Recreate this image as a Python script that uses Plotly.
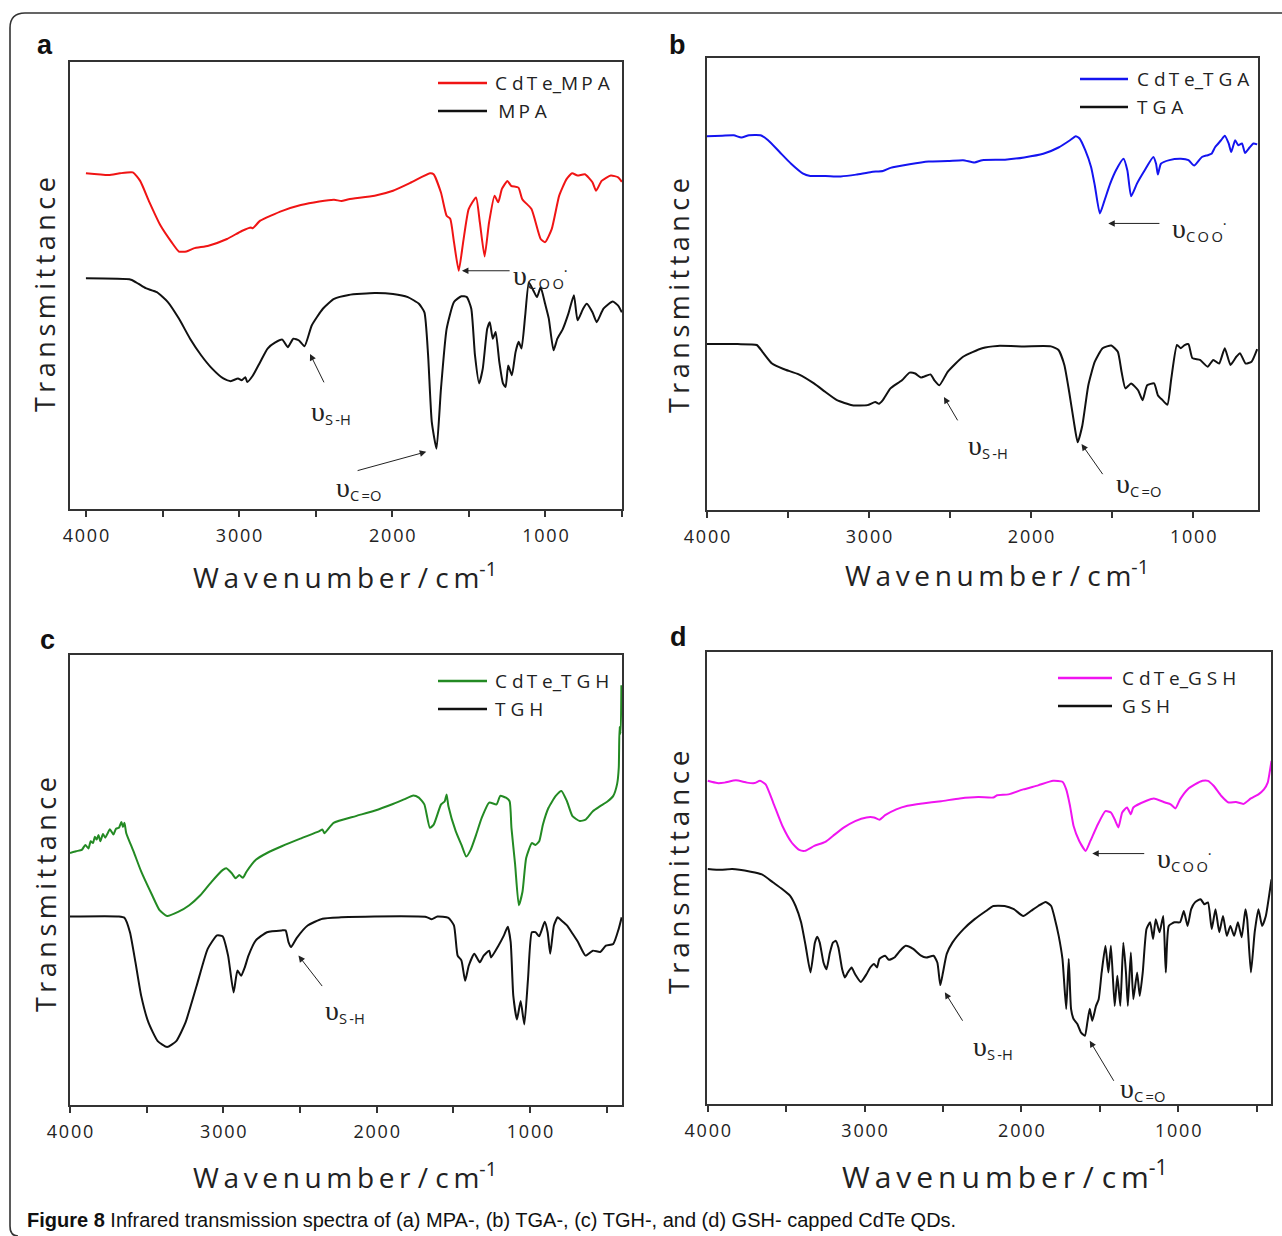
import plotly.graph_objects as go

W, H = 1282, 1236


def fx(p):
    return p / W


def fy(p):
    return 1 - p / H


# ---------------- (a) MPA ----------------
wn_cdte_mpa = [4000, 3851, 3778, 3694, 3646, 3585, 3513, 3441, 3393, 3344, 3296, 3200, 3079, 2983, 2923,
               2911, 2862, 2718, 2597, 2477, 2380, 2332, 2284, 2115, 1995, 1874, 1754, 1730, 1682, 1645,
               1621, 1597, 1566, 1537, 1501, 1453, 1428, 1397, 1368, 1332, 1308, 1284, 1248, 1224, 1176,
               1151, 1091, 1031, 1002, 959, 910, 862, 826, 790, 742, 693, 669, 633, 573, 525, 501]
t_cdte_mpa = [75.1, 74.7, 75.1, 75.3, 73.4, 68.6, 63.4, 59.7, 57.6, 57.6, 58.3, 58.9, 60.4, 62.2, 63.0,
              62.8, 64.5, 66.7, 68.0, 68.8, 69.2, 68.9, 69.3, 70.1, 71.2, 73.1, 75.1, 74.9, 70.8, 65.6,
              64.9, 59.7, 53.3, 59.7, 67.1, 69.7, 64.1, 56.5, 64.1, 70.1, 68.6, 71.6, 73.4, 72.3, 71.9,
              69.3, 67.1, 60.4, 59.7, 62.6, 70.1, 73.8, 75.1, 74.6, 74.9, 73.1, 71.2, 73.4, 74.6, 74.2, 73.2]

wn_mpa = [4000, 3706, 3658, 3610, 3537, 3465, 3393, 3320, 3248, 3176, 3103, 3055, 3007, 2983, 2959,
          2947, 2911, 2862, 2814, 2766, 2718, 2682, 2646, 2609, 2573, 2525, 2453, 2380, 2284, 2115,
          1995, 1898, 1826, 1790, 1766, 1742, 1711, 1682, 1645, 1597, 1549, 1513, 1484, 1460, 1433,
          1409, 1380, 1363, 1344, 1325, 1301, 1277, 1260, 1243, 1219, 1195, 1175, 1156, 1132, 1108,
          1079, 1055, 1031, 1002, 978, 947, 922, 886, 850, 814, 790, 754, 730, 693, 665, 621, 561, 525, 501]
t_mpa = [51.6, 51.3, 50.4, 49.4, 48.5, 46.3, 42.6, 38.1, 34.4, 31.4, 29.2, 28.6, 29.2, 28.8, 29.5,
         28.4, 29.8, 32.9, 35.9, 37.2, 37.9, 36.2, 38.1, 37.7, 36.4, 41.1, 44.8, 47.0, 47.9, 48.3,
         48.1, 47.4, 45.9, 44.0, 34.4, 19.5, 13.5, 26.9, 40.3, 46.3, 47.6, 47.4, 44.8, 34.4, 28.1,
         31.4, 40.3, 41.8, 38.1, 39.6, 32.9, 28.1, 27.3, 32.1, 29.9, 35.1, 37.4, 35.9, 43.3, 50.7,
         48.9, 47.4, 49.6, 45.9, 42.6, 35.5, 38.1, 40.3, 43.7, 47.8, 42.2, 44.8, 45.9, 44.0, 41.8, 44.8, 46.4, 45.5, 44.0]

# ---------------- (b) TGA ----------------
wn_cdte_tga = [4000, 3906, 3835, 3788, 3741, 3670, 3623, 3552, 3481, 3410, 3363, 3269, 3175, 3080, 2986,
               2915, 2868, 2750, 2632, 2514, 2420, 2349, 2302, 2161, 2043, 1925, 1831, 1760, 1725, 1701,
               1666, 1630, 1607, 1576, 1548, 1512, 1477, 1430, 1406, 1383, 1347, 1300, 1246, 1229, 1218,
               1199, 1147, 1076, 1029, 994, 946, 911, 887, 864, 828, 805, 781, 765, 741, 722, 699, 680,
               652, 628, 605]
t_cdte_tga = [82.7, 82.8, 82.9, 82.4, 82.9, 82.9, 81.8, 79.2, 76.6, 74.5, 73.9, 73.9, 73.8, 74.2, 74.8,
              75.0, 75.7, 76.5, 77.1, 77.2, 77.4, 76.9, 77.4, 77.5, 78.0, 78.8, 80.2, 81.8, 82.7, 82.2,
              79.6, 75.9, 71.8, 65.6, 68.4, 72.2, 75.1, 77.7, 75.1, 69.4, 72.2, 75.1, 78.1, 76.6, 74.2,
              76.6, 77.4, 77.7, 77.4, 76.2, 78.1, 78.5, 78.8, 80.3, 81.8, 82.8, 81.1, 79.2, 81.8, 80.7,
              81.1, 79.0, 80.2, 81.1, 80.9]

wn_tga = [4000, 3811, 3693, 3658, 3599, 3528, 3434, 3340, 3269, 3198, 3104, 3010, 2962, 2939, 2915,
          2868, 2797, 2750, 2715, 2680, 2621, 2597, 2566, 2514, 2420, 2302, 2208, 2043, 1878, 1831,
          1795, 1765, 1736, 1713, 1684, 1647, 1607, 1559, 1505, 1465, 1442, 1418, 1383, 1340, 1312,
          1284, 1241, 1218, 1189, 1159, 1135, 1100, 1076, 1053, 1029, 1005, 958, 911, 876, 840, 805,
          770, 734, 711, 676, 640, 605]
t_tga = [36.7, 36.7, 36.5, 35.0, 32.4, 31.2, 30.0, 28.0, 26.1, 24.3, 23.2, 23.2, 23.9, 23.5, 24.3,
         26.9, 28.7, 30.4, 30.2, 29.3, 30.0, 28.7, 27.6, 30.6, 33.9, 35.8, 36.3, 36.2, 36.2, 35.4,
         32.1, 26.1, 19.5, 15.0, 18.7, 27.6, 32.8, 35.8, 36.4, 35.0, 30.6, 26.9, 28.0, 26.5, 24.3,
         27.6, 28.0, 25.4, 24.3, 23.3, 29.1, 36.5, 35.8, 36.5, 36.7, 33.6, 33.2, 31.7, 33.2, 32.4, 35.8,
         32.1, 33.9, 34.7, 32.4, 32.8, 35.6]

# ---------------- (c) TGH ----------------
wn_cdte_tgh = [4000, 3960, 3923, 3900, 3880, 3865, 3850, 3838, 3826, 3814, 3802, 3785, 3770, 3754, 3740,
               3717, 3700, 3681, 3665, 3655, 3645, 3633, 3585, 3536, 3464, 3416, 3367, 3295, 3222, 3150,
               3077, 3005, 2981, 2945, 2920, 2896, 2872, 2848, 2788, 2715, 2619, 2498, 2377, 2353, 2341,
               2281, 2136, 2015, 1894, 1822, 1761, 1725, 1689, 1653, 1628, 1580, 1556, 1544, 1532, 1484,
               1447, 1416, 1387, 1351, 1315, 1266, 1218, 1194, 1157, 1133, 1121, 1097, 1073, 1049, 1025,
               988, 964, 940, 916, 880, 832, 795, 759, 723, 675, 638, 590, 542, 493, 457, 432, 421, 416,
               409, 404]
t_cdte_tgh = [56.0, 56.4, 56.7, 57.8, 57.0, 58.6, 58.2, 59.6, 59.0, 60.0, 58.6, 60.2, 59.4, 60.4, 61.3,
              60.1, 61.4, 61.6, 62.9, 61.8, 62.7, 60.4, 56.3, 51.9, 46.6, 43.3, 42.0, 42.9, 44.4, 46.6,
              49.6, 52.2, 52.6, 51.5, 50.4, 51.1, 50.5, 51.9, 54.5, 56.0, 57.5, 59.2, 60.8, 61.2, 60.4,
              62.7, 64.2, 65.4, 66.9, 67.9, 68.8, 68.3, 66.8, 61.6, 62.3, 66.8, 67.5, 69.0, 66.4, 60.8,
              57.8, 55.2, 56.7, 60.1, 63.8, 67.2, 66.8, 68.7, 68.3, 67.5, 61.6, 53.4, 44.4, 47.4, 54.9,
              58.2, 57.8, 58.6, 62.3, 66.0, 68.7, 69.8, 67.5, 64.2, 63.1, 63.4, 65.3, 66.4, 67.5, 68.7,
              71.3, 75.0, 84.0, 82.5, 93.3]

wn_tgh = [4000, 3681, 3645, 3609, 3573, 3536, 3488, 3428, 3367, 3307, 3247, 3174, 3102, 3041, 3005,
          2969, 2933, 2908, 2884, 2860, 2836, 2788, 2715, 2619, 2594, 2575, 2558, 2522, 2450, 2353,
          2232, 2015, 1677, 1641, 1604, 1532, 1496, 1472, 1447, 1423, 1399, 1363, 1327, 1302, 1266,
          1254, 1206, 1170, 1145, 1126, 1109, 1085, 1061, 1037, 1013, 988, 964, 940, 904, 885, 868,
          844, 819, 795, 759, 723, 687, 638, 590, 542, 505, 457, 421, 402]
t_tgh = [41.9, 41.9, 41.6, 38.4, 31.7, 24.3, 18.3, 14.2, 12.9, 14.2, 18.3, 26.5, 34.7, 37.7, 37.5,
         33.2, 25.0, 29.9, 28.7, 30.6, 33.2, 36.6, 38.4, 38.8, 38.8, 36.2, 35.1, 37.1, 39.9, 41.4,
         41.7, 41.9, 41.8, 41.3, 41.9, 41.6, 39.9, 33.2, 32.1, 27.6, 31.0, 33.6, 31.7, 33.2, 34.3,
         32.8, 35.4, 37.7, 39.6, 36.2, 24.3, 19.0, 23.1, 17.9, 28.0, 38.4, 38.4, 37.5, 40.7, 38.4, 33.6,
         39.9, 41.7, 41.0, 39.9, 38.1, 36.2, 33.2, 34.3, 34.0, 35.4, 35.8, 39.2, 41.7]

# ---------------- (d) GSH ----------------
wn_cdte_gsh = [4000, 3940, 3893, 3821, 3750, 3702, 3667, 3631, 3583, 3524, 3464, 3417, 3381, 3321, 3250,
               3202, 3131, 3060, 2988, 2940, 2905, 2869, 2798, 2726, 2631, 2512, 2393, 2274, 2179, 2155,
               2083, 1988, 1893, 1798, 1738, 1714, 1690, 1667, 1631, 1590, 1560, 1512, 1464, 1429, 1405,
               1381, 1357, 1326, 1302, 1286, 1202, 1155, 1083, 1048, 1017, 988, 940, 893, 845, 810, 774,
               726, 679, 631, 583, 536, 488, 453, 429, 417, 405]
t_cdte_gsh = [71.5, 71.0, 71.1, 71.6, 71.1, 71.0, 71.5, 70.7, 66.7, 61.5, 57.8, 56.2, 56.0, 57.1, 58.0,
              59.3, 61.2, 62.6, 63.4, 63.4, 62.9, 63.9, 65.2, 66.0, 66.5, 67.0, 67.6, 67.9, 67.8, 68.3,
              68.5, 69.6, 70.5, 71.5, 71.3, 69.6, 66.0, 61.5, 58.2, 56.0, 58.2, 61.9, 64.8, 64.5, 63.0,
              61.2, 64.5, 65.6, 64.1, 65.6, 67.1, 67.6, 66.7, 66.3, 65.4, 67.4, 69.6, 70.7, 71.5, 71.5, 70.4,
              68.2, 66.7, 66.8, 66.4, 67.6, 68.5, 69.6, 71.1, 73.3, 75.9]

wn_gsh = [4000, 3917, 3845, 3726, 3655, 3583, 3524, 3476, 3440, 3405, 3376, 3345, 3317, 3302, 3286,
          3262, 3243, 3221, 3202, 3183, 3167, 3143, 3126, 3107, 3083, 3060, 3024, 2988, 2964, 2940,
          2921, 2905, 2869, 2845, 2810, 2774, 2738, 2690, 2643, 2607, 2560, 2536, 2517, 2500, 2476,
          2440, 2369, 2298, 2226, 2179, 2107, 2048, 1988, 1940, 1893, 1845, 1810, 1786, 1762, 1738,
          1714, 1698, 1683, 1667, 1643, 1619, 1595, 1579, 1564, 1548, 1524, 1507, 1488, 1464, 1445,
          1429, 1405, 1388, 1369, 1350, 1333, 1321, 1302, 1286, 1262, 1245, 1226, 1202, 1179, 1160,
          1143, 1119, 1095, 1079, 1060, 1024, 988, 964, 940, 917, 893, 857, 833, 810, 786, 762, 738,
          714, 690, 667, 643, 619, 595, 571, 560, 536, 512, 488, 465, 441, 417, 405]
t_gsh = [52.0, 51.8, 52.0, 51.4, 50.8, 49.0, 47.5, 46.1, 43.8, 40.2, 35.0, 29.1, 35.7, 37.0, 35.7,
         31.3, 29.8, 33.5, 35.7, 36.1, 34.6, 29.8, 28.0, 29.1, 30.2, 28.7, 27.0, 28.7, 30.2, 31.0,
         30.2, 32.1, 32.8, 31.9, 32.4, 33.9, 35.0, 34.3, 32.9, 32.4, 32.8, 31.3, 26.3, 29.1, 33.2,
         35.7, 38.7, 40.9, 42.7, 43.8, 43.8, 43.1, 41.6, 42.7, 43.8, 44.7, 43.8, 40.9, 37.2, 32.1,
         21.0, 32.1, 21.0, 18.8, 17.7, 15.8, 15.1, 18.1, 21.1, 18.4, 21.7, 23.2, 29.1, 35.0, 29.1,
         35.0, 21.7, 28.4, 21.7, 35.7, 29.1, 21.7, 33.5, 23.2, 29.1, 23.9, 29.1, 38.7, 40.2, 36.5,
         40.9, 38.0, 41.6, 29.1, 39.4, 40.2, 40.2, 42.7, 39.4, 43.1, 44.6, 45.3, 44.2, 44.6, 38.7, 43.1, 38.0,
         41.6, 37.2, 39.4, 37.2, 40.2, 36.9, 43.1, 40.9, 29.1, 38.0, 43.1, 39.4, 41.6, 46.8, 49.7]

# legend labels and colours per panel
labels_qd = ["C d\u2009T e_M\u2009P A", "C d\u2009T e_T G A", "C d\u2009T e_T G H", "C d\u2009T e_G S H"]
labels_ligand = ["\u2009M\u2009P A", "T G A", "T G H", "G S H"]
colors_qd = ["#f01414", "#1414f0", "#238a23", "#f014f0"]
panel_letters = ["a", "b", "c", "d"]

FONT = "Open Sans, Liberation Sans, sans-serif"
INK = "#222222"

# panel geometry (pixels): left, right, top, bottom
boxes = [(70, 622, 62, 509), (707, 1258, 58, 510), (70, 622, 655, 1105), (707, 1271, 652, 1104)]
xranges = [[4104, 500], [4000, 600], [4000, 400], [4005, 408]]

series = [
    (wn_cdte_mpa, t_cdte_mpa, wn_mpa, t_mpa),
    (wn_cdte_tga, t_cdte_tga, wn_tga, t_tga),
    (wn_cdte_tgh, t_cdte_tgh, wn_tgh, t_tgh),
    (wn_cdte_gsh, t_cdte_gsh, wn_gsh, t_gsh),
]

fig = go.Figure()

for i, (wq, tq, wl, tl) in enumerate(series):
    xa = "x" if i == 0 else f"x{i + 1}"
    ya = "y" if i == 0 else f"y{i + 1}"
    fig.add_trace(go.Scatter(x=wq, y=tq, mode="lines", xaxis=xa, yaxis=ya, showlegend=False,
                             line=dict(color=colors_qd[i], width=2, shape="spline", smoothing=0.5),
                             name=labels_qd[i]))
    fig.add_trace(go.Scatter(x=wl, y=tl, mode="lines", xaxis=xa, yaxis=ya, showlegend=False,
                             line=dict(color="#111111", width=2, shape="spline", smoothing=0.5),
                             name=labels_ligand[i]))

HS = "\u200a"
tick_vals = [4000, 3500, 3000, 2500, 2000, 1500, 1000, 500]
tick_text = [HS.join(str(v)) if v % 1000 == 0 else "" for v in tick_vals]

layout = dict(
    width=W, height=H, margin=dict(l=0, r=0, t=0, b=0, pad=0, autoexpand=False),
    paper_bgcolor="white", plot_bgcolor="white", showlegend=False,
)
for i, (l, r, t, b) in enumerate(boxes):
    sfx = "" if i == 0 else str(i + 1)
    layout[f"xaxis{sfx}"] = dict(
        domain=[fx(l), fx(r)], range=xranges[i], anchor=f"y{sfx}", automargin=False,
        showline=True, linecolor="#333333", linewidth=2, mirror=True,
        showgrid=False, zeroline=False, ticks="outside", ticklen=6, tickwidth=1.5,
        tickcolor="#333333", tickmode="array", tickvals=tick_vals, ticktext=tick_text,
        tickfont=dict(family=FONT, size=18, color=INK), ticklabelstandoff=3,
    )
    layout[f"yaxis{sfx}"] = dict(
        domain=[fy(b), fy(t)], range=[0, 100], anchor=f"x{sfx}", automargin=False,
        showline=True, linecolor="#333333", linewidth=2, mirror=True,
        showgrid=False, zeroline=False, ticks="", showticklabels=False,
    )
fig.update_layout(**layout)

ann = []
shapes = []

TS = "\u2009"
xtitle = TS.join("Wavenumber") + " / " + TS.join("cm") + "<sup>-1</sup>"
ytitle = TS.join("Transmittance")

xtitle_pos = [(345, 575, 28), (997, 573, 28), (345, 1175, 28), (1005, 1175, 30)]
ytitle_pos = [(45, 295, 27), (678, 296, 27), (45, 895, 27), (678, 872, 28)]
letter_pos = [(45, 45), (677, 45), (47, 640), (678, 637)]
# legend rows: line start, line end, text start, first row y
legend_pos = [(438, 487, 493, 83), (1080, 1128, 1135, 79), (438, 487, 493, 681), (1058, 1112, 1120, 678)]

for i in range(4):
    x0, y0, s = xtitle_pos[i]
    ann.append(dict(xref="paper", yref="paper", x=fx(x0), y=fy(y0), text=xtitle, showarrow=False,
                    xanchor="center", yanchor="middle", font=dict(family=FONT, size=s, color=INK)))
    x0, y0, s = ytitle_pos[i]
    ann.append(dict(xref="paper", yref="paper", x=fx(x0), y=fy(y0), text=ytitle, showarrow=False,
                    textangle=-90, xanchor="center", yanchor="middle", font=dict(family=FONT, size=s, color=INK)))
    x0, y0 = letter_pos[i]
    ann.append(dict(xref="paper", yref="paper", x=fx(x0), y=fy(y0), text=f"<b>{panel_letters[i]}</b>",
                    showarrow=False, xanchor="center", yanchor="middle",
                    font=dict(family="Liberation Sans, Arial, sans-serif", size=27, color="#111111")))
    lx0, lx1, tx, ly = legend_pos[i]
    for k, (lab, col) in enumerate([(labels_qd[i], colors_qd[i]), (labels_ligand[i], "#111111")]):
        yy = ly + 28 * k
        shapes.append(dict(type="line", xref="paper", yref="paper", x0=fx(lx0), x1=fx(lx1),
                           y0=fy(yy), y1=fy(yy), line=dict(color=col, width=2.5)))
        ann.append(dict(xref="paper", yref="paper", x=fx(tx), y=fy(yy), text=lab, showarrow=False,
                        xanchor="left", yanchor="middle", font=dict(family=FONT, size=19, color=INK)))

# band assignments: (panel, tip wn, tip T, tail wn, tail T)
arrows = [
    (0, 1545, 53.3, 1224, 53.3), (0, 2537, 34.7, 2441, 28.0), (0, 1778, 12.8, 2236, 8.5),
    (1, 1524, 63.4, 1199, 63.4), (1, 2538, 25.0, 2448, 19.5), (1, 1689, 14.6, 1552, 7.6),
    (2, 2510, 33.2, 2348, 26.1),
    (3, 1548, 55.4, 1207, 55.4), (3, 2488, 24.7, 2369, 18.1), (3, 1564, 14.0, 1405, 4.8),
]
band_labels = [
    (0, 1228, 52.0, "C\u2009O\u2009O", True), (0, 2544, 21.5, "S\u2009-H", False), (0, 2380, 4.5, "C\u2009=O", False),
    (1, 1142, 62.0, "C\u2009O\u2009O", True), (1, 2401, 14.0, "S\u2009-H", False), (1, 1489, 5.6, "C\u2009=O", False),
    (2, 2353, 20.8, "S\u2009-H", False),
    (3, 1150, 54.2, "C\u2009O\u2009O", True), (3, 2321, 12.6, "S\u2009-H", False), (3, 1381, 3.2, "C\u2009=O", False),
]

for p, xt, yt, xa_, ya_ in arrows:
    sfx = "" if p == 0 else str(p + 1)
    ann.append(dict(xref=f"x{sfx}", yref=f"y{sfx}", axref=f"x{sfx}", ayref=f"y{sfx}",
                    x=xt, y=yt, ax=xa_, ay=ya_, text="", showarrow=True,
                    arrowhead=2, arrowsize=1.3, arrowwidth=1, arrowcolor="#222222"))

for p, xl, yl, sub, minus in band_labels:
    sfx = "" if p == 0 else str(p + 1)
    txt = ('<span style="font-family:Liberation Serif, DejaVu Serif, serif;font-size:28px">\u03c5</span>'
           f"<sub>{sub}</sub>" + ("<sup>\u00b7</sup>" if minus else ""))
    ann.append(dict(xref=f"x{sfx}", yref=f"y{sfx}", x=xl, y=yl, text=txt, showarrow=False,
                    xanchor="left", yanchor="middle", font=dict(family=FONT, size=21, color=INK)))

# caption
ann.append(dict(xref="paper", yref="paper", x=fx(25), y=fy(1220), xanchor="left", yanchor="middle",
                showarrow=False,
                text="<b>Figure 8</b> Infrared transmission spectra of (a) MPA-, (b) TGA-, (c) TGH-, "
                     "and (d) GSH- capped CdTe QDs.",
                font=dict(family="Liberation Sans, Arial, sans-serif", size=20, color="#111111")))

# outer rounded frame (open on the right and bottom)
frame = (f"M {fx(18)},{fy(1236)} Q {fx(10)},{fy(1236)} {fx(10)},{fy(1226)} "
         f"L {fx(10)},{fy(28)} Q {fx(10)},{fy(13)} {fx(25)},{fy(13)} L {fx(1290)},{fy(13)}")
shapes.append(dict(type="path", xref="paper", yref="paper", path=frame,
                   line=dict(color="#333333", width=1.6)))

fig.update_layout(annotations=ann, shapes=shapes)
fig.write_html("out.html")
